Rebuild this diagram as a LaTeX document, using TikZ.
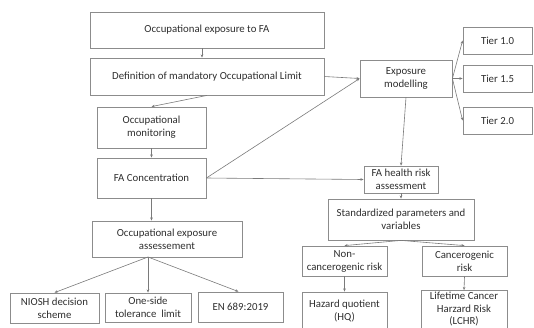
\documentclass[tikz,border=0pt]{standalone}
\usepackage{fontspec}
\setmainfont{Carlito}
\usetikzlibrary{arrows.meta}
\definecolor{boxc}{HTML}{8C8C8C}
\definecolor{linec}{HTML}{7A7A7A}
\definecolor{txtc}{HTML}{2E2E2E}
\begin{document}
\begin{tikzpicture}[x=1pt,y=-1pt,
  box/.style={draw=boxc, line width=0.8pt, rectangle, align=center, inner sep=1pt,
    text=txtc, font=\fontsize{10.8}{13}\selectfont},
  conn/.style={draw=linec, line width=0.6pt, -{Stealth[length=3.2pt,width=2.6pt]}}]
\useasboundingbox (0,0) rectangle (534,327);
\clip (0,0) rectangle (534,327);
\node[box, minimum width=234, minimum height=36] (b1) at (207,30) {Occupational exposure to FA};
\node[box, minimum width=234, minimum height=37] (b2) at (207,76.5) {Definition of mandatory Occupational Limit};
\node[box, minimum width=109, minimum height=41] (mon) at (151.5,127.5) {Occupational\\monitoring};
\node[box, minimum width=109, minimum height=40] (conc) at (151.5,178) {FA Concentration};
\node[box, minimum width=150, minimum height=36] (ass) at (167,239) {Occupational exposure\\assessement};
\node[box, minimum width=89, minimum height=30] (niosh) at (54.5,308) {NIOSH decision\\scheme};
\node[box, minimum width=86, minimum height=29] (one) at (148,307.5) {One-side\\tolerance~ limit};
\node[box, minimum width=85, minimum height=30] (en) at (240.5,307) {EN 689:2019};
\node[box, minimum width=92, minimum height=37] (em) at (406,78.5) {Exposure\\modelling};
\node[box, minimum width=69, minimum height=27] (t1) at (497.5,40.5) {Tier 1.0};
\node[box, minimum width=69, minimum height=27] (t15) at (497.5,78.5) {Tier 1.5};
\node[box, minimum width=69, minimum height=27] (t2) at (497.5,120.5) {Tier 2.0};
\node[box, minimum width=74, minimum height=27] (fh) at (401,179.5) {FA health risk\\assessment};
\node[box, minimum width=146, minimum height=41] (std) at (401,219.5) {Standardized parameters and\\variables};
\node[box, minimum width=85, minimum height=30] (nc) at (344.5,261) {Non-\\cancerogenic risk};
\node[box, minimum width=85, minimum height=30] (ca) at (464.5,261) {Cancerogenic\\risk};
\node[box, minimum width=85, minimum height=38] (hq) at (344.5,311) {Hazard quotient\\(HQ)};
\node[box, minimum width=86, minimum height=38, font=\fontsize{10.8}{12.5}\selectfont] (lc) at (464,309.5) {Lifetime Cancer\\Harzard Risk\\(LCHR)};
\coordinate (af) at (148,257);
\draw[conn] ([xshift=-5pt]b1.south) -- ([xshift=-5pt]b2.north);
\draw[conn] (b2.south) -- (mon.north);
\draw[conn] (mon.south) -- (conc.north);
\draw[conn] (conc.south) -- (conc.south |- ass.north);
\draw[conn] (af) -- (niosh.north);
\draw[conn] (af) -- (one.north);
\draw[conn] (af) -- ([xshift=-2pt]en.north);
\draw[conn] (b2.east) -- (em.west);
\draw[conn] (conc.east) -- (em.west);
\draw[conn] (conc.east) -- (fh.west);
\draw[conn] (em.south) -- (fh.north);
\draw[conn] (em.east) -- (t1.west);
\draw[conn] (em.east) -- (t15.west);
\draw[conn] (em.east) -- (t2.west);
\draw[conn] (fh.south) -- (std.north);
\draw[conn] (std.south) -- (nc.north);
\draw[conn] (std.south) -- (ca.north);
\draw[conn] (nc.south) -- (hq.north);
\draw[conn] (ca.south) -- (lc.north);
\end{tikzpicture}
\end{document}
